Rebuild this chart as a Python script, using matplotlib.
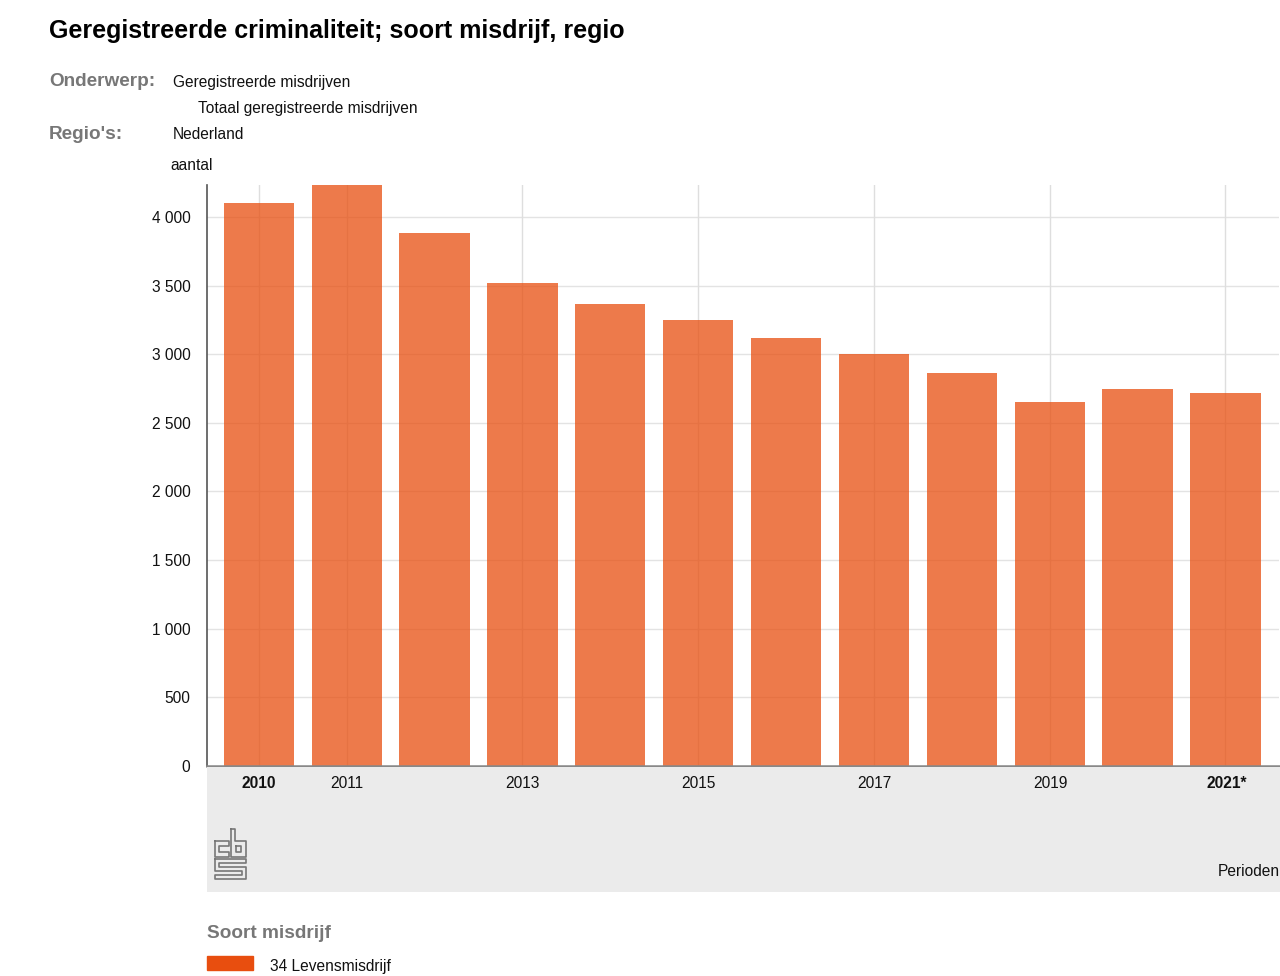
import matplotlib
matplotlib.use("Agg")
import matplotlib.pyplot as plt
from matplotlib.patches import Rectangle
from matplotlib.lines import Line2D
from matplotlib.ticker import FuncFormatter, MultipleLocator

plt.rcParams['font.family'] = ['Liberation Sans', 'DejaVu Sans']

years = ["2010", "2011", "2012", "2013", "2014", "2015", "2016", "2017", "2018", "2019", "2020", "2021*"]
values = [4100, 4260, 3885, 3520, 3365, 3250, 3115, 3005, 2865, 2655, 2750, 2720]
shown_labels = ["2010", "2011", "2013", "2015", "2017", "2019", "2021*"]
bold_labels = ["2010", "2021*"]
series_name = "34 Levensmisdrijf"

W, H = 1280, 976
fig = plt.figure(figsize=(W / 100, H / 100), dpi=100)

def fx(px):
    return px / W

def fy(py):
    return 1 - py / H

FS = 11.2
GS = 13.7

ax_l, ax_r, ax_t, ax_b = 207, 1279, 185, 766
ax = fig.add_axes([fx(ax_l), fy(ax_b), fx(ax_r - ax_l), (ax_b - ax_t) / H])

base = "#E84E0F"
xs = list(range(len(years)))
ax.bar(xs, values, width=0.8, color=base, alpha=0.75, zorder=2)
ax.set_xlim(-0.59, len(years) - 1 + 0.61)
ax.set_ylim(0, 4233)
ax.yaxis.set_major_locator(MultipleLocator(500))
ax.yaxis.set_major_formatter(FuncFormatter(lambda v, p: f"{int(v):,}".replace(",", " ")))
ax.grid(axis='y', color="#e3e3e3", lw=1, zorder=1)
ax.set_axisbelow(True)
for i, y in enumerate(years):
    if y in shown_labels:
        ax.axvline(i, color="#dedede", lw=1, zorder=1)
ax.set_xticks([])
for s in ["top", "right"]:
    ax.spines[s].set_visible(False)
ax.spines["left"].set_color("#555555")
ax.spines["left"].set_linewidth(1.2)
ax.spines["bottom"].set_color("#888888")
ax.spines["bottom"].set_linewidth(1.8)
ax.tick_params(axis='y', length=0, pad=12, labelsize=FS, labelcolor="#111111")

# grey band below
band = fig.add_axes([fx(207), fy(892), fx(1280 - 207), (892 - 767) / H])
band.set_facecolor("#ebebeb")
band.set_xlim(ax.get_xlim())
band.set_ylim(0, 1)
band.set_xticks([]); band.set_yticks([])
for s in band.spines.values():
    s.set_visible(False)
for i, y in enumerate(years):
    if y in shown_labels:
        band.text(i, 1 - (784 - 767) / 125, y, ha='center', va='center', fontsize=FS,
                  fontweight='bold' if y in bold_labels else 'normal', color="#111111")
band.text(1.0, 1 - (872 - 767) / 125, "Perioden", transform=band.transAxes, ha='right',
          va='center', fontsize=FS, color="#111111")

# cbs logo approximation
lc = "#777777"
def seg(pts):
    fig.add_artist(Line2D([fx(p[0]) for p in pts], [fy(p[1]) for p in pts], color=lc, lw=1.2))
seg([(215, 841), (229, 841), (229, 846), (219, 846), (219, 852), (229, 852), (229, 857), (215, 857), (215, 841)])
seg([(231, 829), (235, 829), (235, 841), (246, 841), (246, 857), (231, 857), (231, 829)])
seg([(236, 846), (241, 846), (241, 852), (236, 852), (236, 846)])
seg([(215, 859), (246, 859), (246, 863), (219, 863), (219, 867), (246, 867), (246, 879), (215, 879),
     (215, 875), (242, 875), (242, 871), (215, 871), (215, 859)])

# header texts
fig.text(fx(49), fy(31), "Geregistreerde criminaliteit; soort misdrijf, regio", fontsize=18,
         fontweight='bold', color="#000000", va='center')
grey = "#777777"
fig.text(fx(49), fy(82), "Onderwerp:", fontsize=GS, fontweight='bold', color=grey, va='center')
fig.text(fx(173), fy(83), "Geregistreerde misdrijven", fontsize=FS, color="#111111", va='center')
fig.text(fx(198), fy(109), "Totaal geregistreerde misdrijven", fontsize=FS, color="#111111", va='center')
fig.text(fx(49), fy(134), "Regio's:", fontsize=GS, fontweight='bold', color=grey, va='center')
fig.text(fx(173), fy(134), "Nederland", fontsize=FS, color="#111111", va='center')
fig.text(fx(170), fy(165), "aantal", fontsize=FS, color="#111111", va='center')

# legend
fig.text(fx(207), fy(934), "Soort misdrijf", fontsize=GS, fontweight='bold', color=grey, va='center')
fig.add_artist(Rectangle((fx(207), fy(970)), fx(46), (970 - 956) / H, color=base, transform=fig.transFigure))
fig.text(fx(270), fy(966), series_name, fontsize=FS, color="#111111", va='center')

fig.savefig("out.png", dpi=100)
